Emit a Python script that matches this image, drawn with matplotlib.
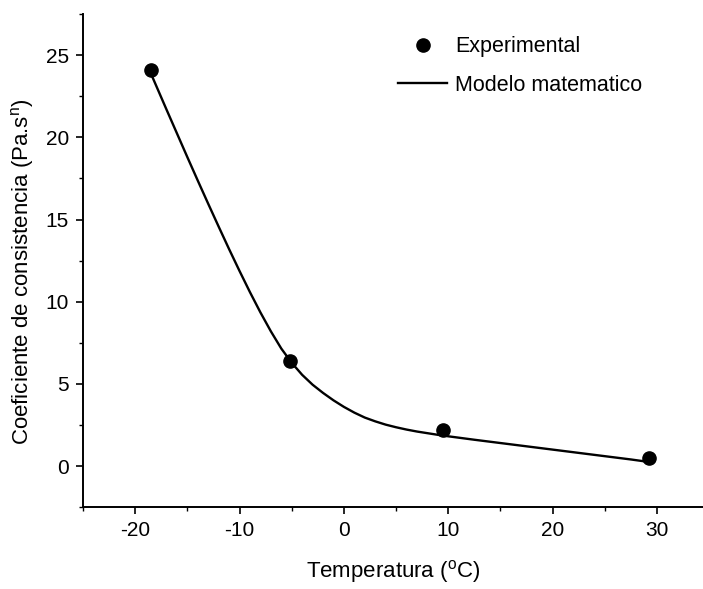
import matplotlib
matplotlib.use("Agg")
import matplotlib.pyplot as plt
from matplotlib.ticker import MultipleLocator

plt.rcParams['font.family'] = ['Liberation Sans', 'DejaVu Sans']
plt.rcParams['mathtext.fontset'] = 'custom'
plt.rcParams['mathtext.rm'] = 'Liberation Sans'
plt.rcParams['axes.unicode_minus'] = False

# Experimental data
exp_temp = [-18.5, -5.2, 9.5, 29.2]
exp_k = [24.1, 6.4, 2.2, 0.5]

# Mathematical model curve
model_temp = [-18.5, -17, -16, -15, -14, -13, -12, -11, -10, -9, -8, -7, -6, -5, -4, -3, -2, -1,
              0, 1, 2, 3, 4, 5, 6, 7, 8, 9, 10, 12.5, 15, 17.5, 20, 22.5, 25, 27.5, 29.2]
model_k = [23.9, 21.7, 20.25, 18.8, 17.37, 15.96, 14.57, 13.2, 11.87, 10.58, 9.35, 8.2, 7.15, 6.28,
           5.55, 4.95, 4.45, 4.0, 3.6, 3.25, 2.95, 2.72, 2.52, 2.36, 2.22, 2.1, 2.0, 1.9, 1.81,
           1.6, 1.4, 1.2, 1.0, 0.8, 0.6, 0.4, 0.25]

xticks = [-20, -10, 0, 10, 20, 30]
yticks = [0, 5, 10, 15, 20, 25]

fig = plt.figure(figsize=(7.03, 5.89), dpi=100)
ax = fig.add_axes([0.118, 0.139, 0.882, 0.837])

ax.plot(exp_temp, exp_k, 'o', color='black', markersize=9.5, label='Experimental', zorder=3)
ax.plot(model_temp, model_k, '-', color='black', linewidth=1.7, label='Modelo matematico',
        solid_joinstyle='round', zorder=2)

ax.set_xlim(-25, 34.4)
ax.set_ylim(-2.5, 27.5)
ax.set_xticks(xticks)
ax.set_yticks(yticks)
ax.xaxis.set_minor_locator(MultipleLocator(5))
ax.yaxis.set_minor_locator(MultipleLocator(2.5))

for s in ['top', 'right']:
    ax.spines[s].set_visible(False)
for s in ['left', 'bottom']:
    ax.spines[s].set_linewidth(1.4)

ax.tick_params(axis='both', which='major', direction='out', length=5, width=1.2, labelsize=15, pad=5)
ax.tick_params(axis='both', which='minor', direction='out', length=3, width=1.0)

ax.set_xlabel(r'Temperatura ($^\mathregular{o}$C)', fontsize=16)
ax.set_ylabel(r'Coeficiente de consistencia (Pa.s$^\mathregular{n}$)', fontsize=16)
ax.xaxis.set_label_coords(0.5, -0.103)
ax.yaxis.set_label_coords(-0.076, 0.477)

ax.legend(loc='upper left', bbox_to_anchor=(0.508, 0.955), frameon=False, fontsize=15.5,
          handlelength=2.3, handletextpad=0.37, labelspacing=0.8, borderpad=0, borderaxespad=0)

fig.savefig('out.png', dpi=100)
